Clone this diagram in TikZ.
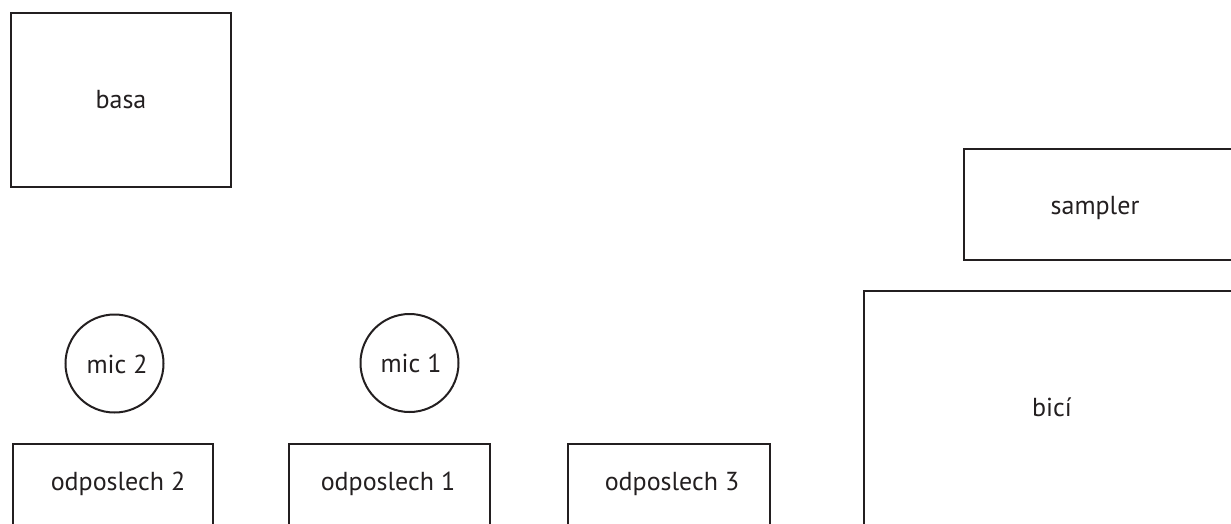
\documentclass[tikz,border=0pt]{standalone}
\usepackage{fontspec}
\setmainfont{PT Sans}
\usepackage{tikz}
\definecolor{ink}{HTML}{231F20}

\begin{document}
\begin{tikzpicture}[x=1pt,y=-1pt,
        box/.style={draw=ink,line width=2pt,inner sep=0pt},
        mic/.style={draw=ink,line width=2pt,circle,inner sep=0pt,minimum size=98pt},
        lbl/.style={text=ink,font=\fontsize{26}{29}\selectfont,inner sep=0pt}]
        \useasboundingbox (0,0) rectangle (1231,523);
        \clip (0,0) rectangle (1231,523);
        \node[box,minimum width=220pt,minimum height=174pt] (basa) at (121,100) {};
        \node[box,minimum width=281pt,minimum height=111pt] (sampler) at (1104.5,204.5) {};
        \node[box,minimum width=386pt,minimum height=249pt] (bici) at (1057,415.5) {};
        \node[box,minimum width=200pt,minimum height=96pt] (odp2) at (113,492) {};
        \node[box,minimum width=201pt,minimum height=96pt] (odp1) at (389.5,492) {};
        \node[box,minimum width=202pt,minimum height=96pt] (odp3) at (669,492) {};
        \node[mic] (mic2) at (114.5,363.5) {};
        \node[mic] (mic1) at (409.5,363) {};
        \node[lbl] at (basa.center) {basa};
        \node[lbl] at (1095,208) {sampler};
        \node[lbl] at (1052,407) {bicí};
        \node[lbl] at ([xshift=2.5pt,yshift=-0.5pt]mic2.center) {mic 2};
        \node[lbl] at ([xshift=1.5pt,yshift=-0.5pt]mic1.center) {mic 1};
        \node[lbl] at (118,484) {odposlech 2};
        \node[lbl] at (388,484) {odposlech 1};
        \node[lbl] at (672,484) {odposlech 3};
\end{tikzpicture}
\end{document}
